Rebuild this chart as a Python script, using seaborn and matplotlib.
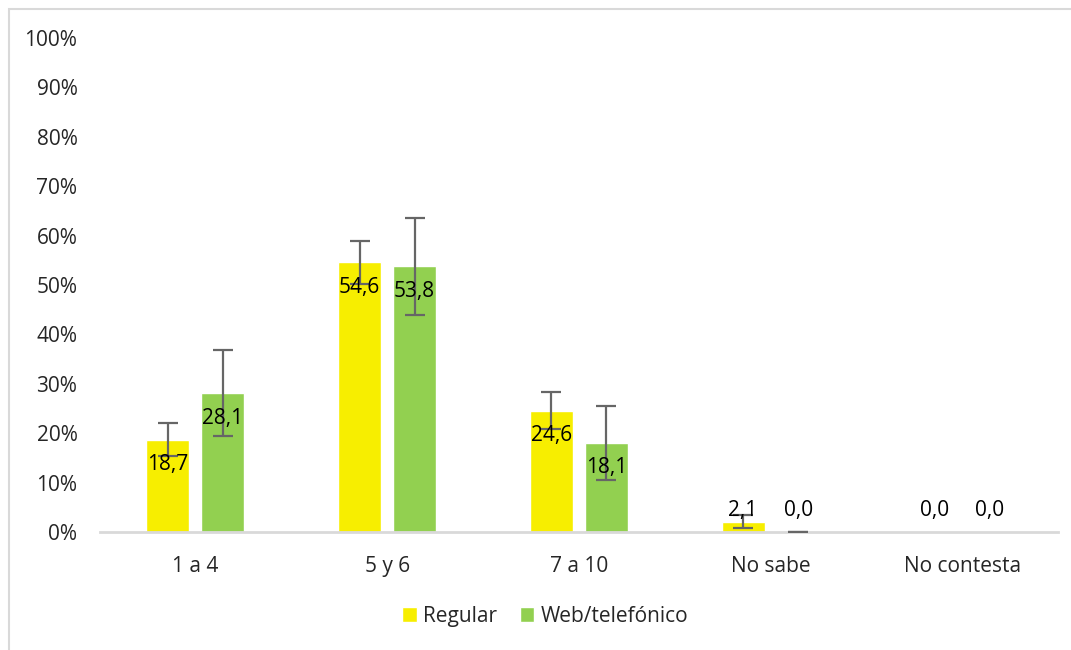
import numpy as np
import pandas as pd
import seaborn as sns
import matplotlib.pyplot as plt
from matplotlib.patches import Rectangle

# Data (percent)
categories = ['1 a 4', '5 y 6', '7 a 10', 'No sabe', 'No contesta']
series = ['Regular', 'Web/telefónico']
regular = [18.7, 54.6, 24.6, 2.1, 0.0]
web = [28.1, 53.8, 18.1, 0.0, 0.0]
# half-width of the error bars (nan = no bar drawn)
regular_err = [3.4, 4.3, 3.7, 1.3, np.nan]
web_err = [8.7, 9.8, 7.5, 0.0, np.nan]

colors = ['#F7EE00', '#92D050']

df = pd.DataFrame({
    'cat': categories * 2,
    'serie': [series[0]] * 5 + [series[1]] * 5,
    'valor': regular + web,
})

sns.set_theme(style='white')
plt.rcParams['font.family'] = ['Open Sans', 'DejaVu Sans']
fs = 15

fig = plt.figure(figsize=(10.71, 6.5), dpi=100)
ax = fig.add_axes([0.093, 0.1815, 0.895, 0.76])

sns.barplot(data=df, x='cat', y='valor', hue='serie', order=categories,
            hue_order=series, palette=colors, width=0.574, gap=0.218,
            errorbar=None, saturation=1, ax=ax, legend=True)

# error bars and labels, placed on the bars seaborn drew
for cont, vals, errs in zip(ax.containers, [regular, web], [regular_err, web_err]):
    for patch, v, e in zip(cont.patches, vals, errs):
        xc = patch.get_x() + patch.get_width() / 2
        if not np.isnan(e):
            ax.errorbar(xc, v, yerr=e, color='#666666', lw=1.6,
                        capsize=7, capthick=1.6, zorder=3)
        txt = f'{v:.1f}'.replace('.', ',')
        if v > 5:
            ax.annotate(txt, (xc, v), xytext=(0, -25), textcoords='offset pixels',
                        ha='center', va='center', fontsize=fs, color='black', zorder=4)
        else:
            ax.annotate(txt, (xc, 0), xytext=(0, 22), textcoords='offset pixels',
                        ha='center', va='center', fontsize=fs, color='black', zorder=4)

ax.set_ylim(0, 100)
ax.set_xlim(-0.5, 4.5)
ax.set_yticks(range(0, 101, 10))
ax.set_yticklabels([f'{t}%' for t in range(0, 101, 10)])
ax.tick_params(axis='y', labelsize=fs, pad=16, length=0)
ax.tick_params(axis='x', labelsize=fs, pad=17, length=0)
ax.set_xlabel('')
ax.set_ylabel('')
for s in ['top', 'right', 'left']:
    ax.spines[s].set_visible(False)
ax.spines['bottom'].set_color('#D9D9D9')
ax.spines['bottom'].set_linewidth(2)
ax.grid(False)

ax.legend(loc='center', bbox_to_anchor=(0.509, 0.052), bbox_transform=fig.transFigure,
          ncol=2, frameon=False, fontsize=fs, handlelength=0.7, handleheight=0.7,
          handletextpad=0.3, columnspacing=1.1)

# light outer frame
fig.patches.append(Rectangle((0.0084, -0.2), 1.2, 1.186, transform=fig.transFigure,
                             fill=False, edgecolor='#D9D9D9', lw=1.5))

fig.savefig('out.png', dpi=100)
